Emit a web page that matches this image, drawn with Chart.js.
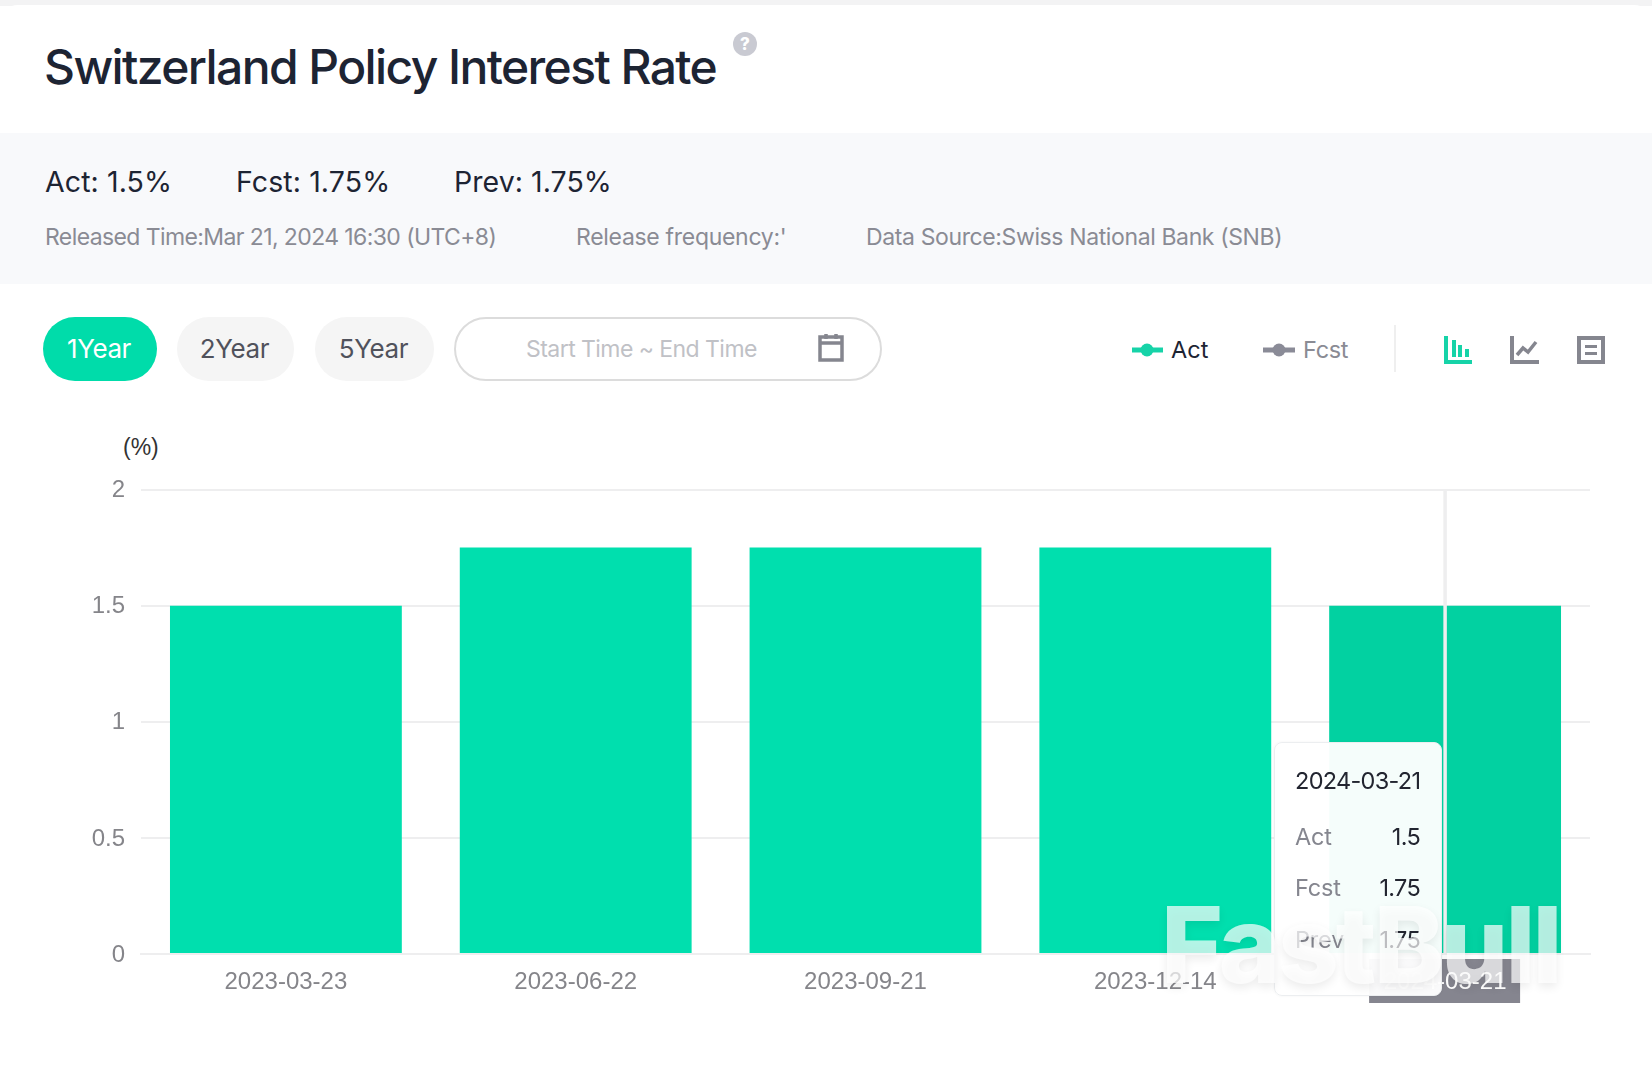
<!DOCTYPE html>
<html><head><meta charset="utf-8">
<script src="https://cdn.jsdelivr.net/npm/chart.js@4/dist/chart.umd.min.js"></script>
<style>
html,body{margin:0;padding:0;background:#fff;width:1652px;height:1072px;overflow:hidden}
body{font-family:Inter,"Noto Sans",sans-serif;position:relative}
.a{position:absolute;white-space:nowrap;line-height:1}
.c{transform:translateY(-50%)}
canvas{position:absolute;left:0;top:0}
</style></head><body>
<div class="a" style="left:0;top:0;width:1652px;height:6px;background:#f3f3f4"></div>
<div class="a" style="left:0;top:5px;width:1652px;height:40px;background:#fff;border-radius:18px 18px 0 0"></div>
<div class="a" style="left:0;top:133px;width:1652px;height:151px;background:#f8f9fb"></div>
<div class="a c" id="title" style="left:44px;top:67px;font-size:48px;font-weight:550;color:#1d2433;letter-spacing:-1.6px">Switzerland Policy Interest Rate</div>
<svg class="a" style="left:733px;top:32px" width="24" height="24"><circle cx="12" cy="12" r="12" fill="#c9cad2"/><text x="12" y="18" text-anchor="middle" font-family="Inter" font-weight="800" font-size="17" fill="#fff">?</text></svg>
<div class="a c" style="left:45px;top:182px;font-size:28.5px;color:#1d2433;letter-spacing:.1px">Act: 1.5%</div>
<div class="a c" style="left:236px;top:182px;font-size:28.5px;color:#1d2433;letter-spacing:.1px">Fcst: 1.75%</div>
<div class="a c" style="left:454px;top:182px;font-size:28.5px;color:#1d2433;letter-spacing:.05px">Prev: 1.75%</div>
<div class="a c" style="left:45px;top:237px;font-size:23px;color:#8a8b94;letter-spacing:-.6px">Released Time:Mar 21, 2024 16:30 (UTC+8)</div>
<div class="a c" style="left:576px;top:237px;font-size:23px;color:#8a8b94;letter-spacing:-.3px">Release frequency:'</div>
<div class="a c" style="left:866px;top:237px;font-size:23px;color:#8a8b94;letter-spacing:-.38px">Data Source:Swiss National Bank (SNB)</div>
<div class="a" style="left:43px;top:317px;width:114px;height:64px;border-radius:32px;background:#00dcaa;color:#fff;font-size:26px;line-height:64px;text-align:center;letter-spacing:-.4px;text-indent:-2px">1Year</div>
<div class="a" style="left:177px;top:317px;width:117px;height:64px;border-radius:32px;background:#f5f5f5;color:#50525c;font-size:26px;line-height:64px;text-align:center;letter-spacing:-.4px;text-indent:-2px">2Year</div>
<div class="a" style="left:315px;top:317px;width:119px;height:64px;border-radius:32px;background:#f5f5f5;color:#50525c;font-size:26px;line-height:64px;text-align:center;letter-spacing:-.4px;text-indent:-2px">5Year</div>
<div class="a" style="left:454px;top:317px;width:424px;height:60px;border-radius:32px;border:2px solid #dcdcdc"></div>
<div class="a c" style="left:526px;top:349px;font-size:23px;color:#c0c1c6;letter-spacing:-.55px">Start Time ~ End Time</div>
<svg class="a" style="left:816px;top:333px" width="30" height="30"><path d="M4 4H26V27H4Z M4 10H26" fill="none" stroke="#85868f" stroke-width="3.5"/><path d="M10 1V6M20 1V6" stroke="#85868f" stroke-width="3.5"/></svg>
<svg class="a" style="left:1130px;top:338px" width="36" height="24"><path d="M2 12H33" stroke="#16d3a8" stroke-width="5"/><circle cx="17" cy="12" r="6.5" fill="#16d3a8"/></svg>
<div class="a c" style="left:1171px;top:350px;font-size:23.5px;color:#1d2433">Act</div>
<svg class="a" style="left:1262px;top:338px" width="36" height="24"><path d="M1 12H33" stroke="#8a8b97" stroke-width="5"/><circle cx="17" cy="12" r="6.5" fill="#8a8b97"/></svg>
<div class="a c" style="left:1303px;top:350px;font-size:23.5px;color:#8a8b94;letter-spacing:-.3px">Fcst</div>
<div class="a" style="left:1394px;top:325px;width:2px;height:47px;background:#efefef"></div>
<svg class="a" style="left:1444px;top:336px" width="28" height="28"><path d="M0 0H4V24H28V28H0Z M8 4H12V21H8Z M14 9H18V21H14Z M21 13H25V21H21Z" fill="#16d3a8"/></svg>
<svg class="a" style="left:1510px;top:336px" width="29" height="28"><path d="M0 0H4V24H29V28H0Z" fill="#85868f"/><path d="M7 19L13 12L18 16L26 6" fill="none" stroke="#85868f" stroke-width="3.5"/></svg>
<svg class="a" style="left:1577px;top:336px" width="28" height="28"><path d="M2 2H26V26H2Z" fill="none" stroke="#85868f" stroke-width="4"/><path d="M8 9H20V12H8Z M8 16H20V19H8Z" fill="#85868f"/></svg>
<div class="a c" style="left:123px;top:447px;font-size:23px;font-family:'Liberation Sans';color:#333">(%)</div>
<canvas id="chart" width="1652" height="1072"></canvas>
<div class="a" style="left:1274px;top:742px;width:166px;height:252px;border-radius:8px;background:rgba(255,255,255,.96);border:1px solid #eceef0;box-shadow:0 0 3px rgba(0,0,0,.05)">
</div>
<div id="tip"></div>
<div class="a c" id="wm" style="left:1161px;top:945px;font-size:106px;font-weight:800;color:rgba(255,255,255,.7);text-shadow:0 4px 10px rgba(0,0,0,.08);font-family:Inter;letter-spacing:-3px">FastBull</div>
<script>
const categories = ["2023-03-23","2023-06-22","2023-09-21","2023-12-14","2024-03-21"];
const actValues = [1.5,1.75,1.75,1.75,1.5];
const yTicks = [0,0.5,1,1.5,2];
const tipLabels = ["Act","Fcst","Prev"];
const tipValues = ["1.5","1.75","1.75"];

const activeIndex = categories.length-1;
const tickFont = {family:"'Liberation Sans'",size:24};
const crosshair = {
  id:'crosshair',
  afterDatasetsDraw(chart){
    const {ctx,chartArea,scales:{x}} = chart;
    const px = x.getPixelForValue(activeIndex);
    ctx.save();
    ctx.fillStyle='#eeeeef';
    ctx.fillRect(px-1.75,chartArea.top,3.5,chartArea.bottom-chartArea.top);
    ctx.fillStyle='#85858f';
    ctx.fillRect(px-76,chartArea.bottom+5,151,44);
    ctx.restore();
  }
};
new Chart(document.getElementById('chart'),{
  type:'bar',
  data:{labels:categories,datasets:[{label:'Act',data:actValues,
    backgroundColor:c=>c.dataIndex===activeIndex?'#02d1a1':'#00dfae',
    categoryPercentage:0.8,barPercentage:1}]},
  options:{
    responsive:false,animation:false,devicePixelRatio:1,
    layout:{padding:{left:0,right:62,top:489.5,bottom:0}},
    plugins:{legend:{display:false},tooltip:{enabled:false}},
    scales:{
      x:{grid:{display:false},border:{color:'#eeeeef',width:2},
        afterFit(s){s.height=118},
        ticks:{z:1,font:tickFont,padding:6,maxRotation:0,autoSkip:false,
          color:c=>c.index===activeIndex?'#ffffff':'#85858a'}},
      y:{min:0,max:2,afterFit(s){s.width=141},
        afterBuildTicks(s){s.ticks=yTicks.map(v=>({value:v}))},
        grid:{color:'#eeeeef',lineWidth:2,drawTicks:false},border:{display:false},
        ticks:{font:tickFont,padding:16,color:'#85858a',labelOffset:1,callback:v=>String(v)}}
    }
  },
  plugins:[crosshair]
});
const tip=document.getElementById('tip');
function add(t,style){const d=document.createElement('div');d.className='a c';d.textContent=t;d.style.cssText=style;tip.appendChild(d);}
add(categories[activeIndex],'left:1295px;top:781px;font-size:23.5px;color:#222530;letter-spacing:-.7px');
tipLabels.forEach((l,i)=>{const y=[837,888,940][i];
  add(l,`left:1295px;top:${y}px;font-size:23.5px;color:#85868f;letter-spacing:-.2px`);
  add(tipValues[i],`right:${1652-1420}px;top:${y}px;font-size:23.5px;color:#222530;letter-spacing:-.7px`);
});
</script>
</body></html>
